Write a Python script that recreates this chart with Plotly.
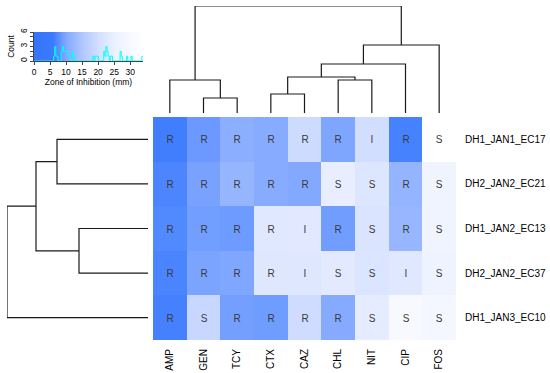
import numpy as np
import plotly.graph_objects as go

# ---------------- data ----------------
antibiotics = ["AMP", "GEN", "TCY", "CTX", "CAZ", "CHL", "NIT", "CIP", "FOS"]
isolates = ["DH1_JAN1_EC17", "DH2_JAN2_EC21", "DH1_JAN2_EC13", "DH2_JAN2_EC37", "DH1_JAN3_EC10"]

# zone of inhibition (mm), one list per isolate (row order as displayed)
zone_ec17 = [6.3, 8.7, 11.0, 10.5, 19.3, 9.8, 20.0, 6.6, 34.0]
zone_ec21 = [6.9, 9.5, 12.1, 10.6, 10.1, 24.3, 22.1, 12.0, 27.2]
zone_ec13 = [7.2, 9.1, 8.8, 22.7, 22.9, 9.0, 21.8, 12.3, 27.4]
zone_ec37 = [6.8, 9.6, 9.9, 22.5, 22.6, 23.4, 22.0, 22.8, 26.9]
zone_ec10 = [6.5, 18.6, 9.2, 8.9, 19.5, 10.4, 24.0, 30.4, 29.0]

call_ec17 = ["R", "R", "R", "R", "R", "R", "I", "R", "S"]
call_ec21 = ["R", "R", "R", "R", "R", "S", "S", "R", "S"]
call_ec13 = ["R", "R", "R", "R", "I", "R", "S", "R", "S"]
call_ec37 = ["R", "R", "R", "R", "I", "S", "S", "I", "S"]
call_ec10 = ["R", "S", "R", "R", "R", "R", "S", "S", "S"]

# dendrogram merges (R hclust style: negative = leaf index, positive = earlier merge), height
col_merge = [(-2, -3, 15), (-1, 1, 33), (-4, -5, 19), (-6, -7, 33),
             (3, 4, 36), (5, -8, 49), (6, -9, 68), (2, 7, 107)]
row_merge = [(-1, -2, 91), (-3, -4, 69), (1, 2, 112), (3, -5, 141)]

key_ticks = [0, 5, 10, 15, 20, 25, 30]
count_ticks = [0, 1, 2, 3, 4, 5, 6]
count_labels = ["0", "", "", "3", "", "", "6"]

zmax = 34
# ---------------------------------------

Z = np.array([zone_ec17, zone_ec21, zone_ec13, zone_ec37, zone_ec10], dtype=float)
T = [call_ec17, call_ec21, call_ec13, call_ec37, call_ec10]

colorscale = [[0.0, "rgb(52,116,254)"], [6 / zmax, "rgb(60,123,254)"],
              [10 / zmax, "rgb(130,168,255)"], [15 / zmax, "rgb(175,198,255)"],
              [20 / zmax, "rgb(210,222,255)"], [25 / zmax, "rgb(235,240,255)"],
              [1.0, "rgb(255,255,255)"]]


def dendro(merges, n):
    pos, hgt = {}, {}
    a_s, h_s = [], []

    def info(k):
        if k < 0:
            return float(-k - 1), 0.0
        return pos[k], hgt[k]

    for i, (a, b, h) in enumerate(merges, start=1):
        pa, ha = info(a)
        pb, hb = info(b)
        a_s += [pa, pa, pb, pb, None]
        h_s += [ha, h, h, hb, None]
        pos[i] = (pa + pb) / 2
        hgt[i] = h
    return a_s, h_s


W, H = 550, 373
hm_x = [153 / W, 456 / W]
hm_y = [1 - 340 / H, 1 - 117 / H]

fig = go.Figure()

fig.add_trace(go.Heatmap(
    z=Z, x=list(range(len(antibiotics))), y=list(range(len(isolates))),
    text=T, texttemplate="%{text}", textfont=dict(size=10, color="#3a3a3a"),
    colorscale=colorscale, zmin=0, zmax=zmax, showscale=False,
    hoverinfo="skip", xaxis="x", yaxis="y"))

cx, cy = dendro(col_merge, len(antibiotics))
fig.add_trace(go.Scatter(x=cx, y=cy, mode="lines", line=dict(color="#1a1a1a", width=1.2),
                         hoverinfo="skip", xaxis="x2", yaxis="y2", showlegend=False))

rx, ry = dendro(row_merge, len(isolates))
fig.add_trace(go.Scatter(x=ry, y=rx, mode="lines", line=dict(color="#1a1a1a", width=1.2),
                         hoverinfo="skip", xaxis="x3", yaxis="y3", showlegend=False))

# color key
edges = np.linspace(0, zmax, 201)
fig.add_trace(go.Heatmap(z=[(edges[:-1] + edges[1:]) / 2], x=edges, y=[0, 6],
                         colorscale=colorscale, zmin=0, zmax=zmax, showscale=False,
                         hoverinfo="skip", xaxis="x4", yaxis="y4"))
vals = Z.flatten()
counts, bedges = np.histogram(vals, bins=np.linspace(0, zmax, 101))
hx = np.repeat(bedges, 2)[1:-1]
hy = np.repeat(counts, 2)
fig.add_trace(go.Scatter(x=hx, y=hy, mode="lines", line=dict(color="#00ffff", width=1),
                         hoverinfo="skip", xaxis="x4", yaxis="y4", showlegend=False))

fig.update_layout(
    width=W, height=H, margin=dict(l=0, r=0, t=0, b=0),
    paper_bgcolor="white", plot_bgcolor="white",
    font=dict(family="Liberation Sans, Arial, sans-serif", color="#000000"),
    showlegend=False,
    xaxis=dict(domain=hm_x, range=[-0.5, 8.5], tickvals=list(range(9)), ticktext=antibiotics,
               tickangle=-90, ticks="", showgrid=False, zeroline=False, tickfont=dict(size=10),
               ticklabelstandoff=6, anchor="y", automargin=False),
    yaxis=dict(domain=hm_y, range=[4.5, -0.5], tickvals=list(range(5)), ticktext=isolates,
               side="right", ticks="", showgrid=False, zeroline=False, tickfont=dict(size=10),
               ticklabelstandoff=8, anchor="x", automargin=False),
    xaxis2=dict(domain=hm_x, range=[-0.5, 8.5], visible=False, anchor="y2"),
    yaxis2=dict(domain=[1 - 113 / H, 1 - 6 / H], range=[0, 107], visible=False, anchor="x2"),
    xaxis3=dict(domain=[7 / W, 148 / W], range=[141, 0], visible=False, anchor="y3"),
    yaxis3=dict(domain=hm_y, range=[4.5, -0.5], visible=False, anchor="x3"),
    xaxis4=dict(domain=[34 / W, 143 / W], range=[0, zmax], tickvals=key_ticks,
                ticks="outside", ticklen=3, tickcolor="#444", showline=True, linecolor="#444",
                showgrid=False, zeroline=False, tickfont=dict(size=8.5),
                title=dict(text="Zone of Inhibition (mm)", font=dict(size=8.5), standoff=2),
                anchor="y4", automargin=False),
    yaxis4=dict(domain=[1 - 61 / H, 1 - 32 / H], range=[0, 6], tickvals=count_ticks,
                ticktext=count_labels, tickangle=-90, ticks="outside", ticklen=3,
                tickcolor="#444", showline=True, linecolor="#444", showgrid=False,
                zeroline=False, tickfont=dict(size=8.5),
                title=dict(text="Count", font=dict(size=8.5), standoff=2), anchor="x4",
                automargin=False),
)

fig.write_html("out.html", config={"displayModeBar": False},
               post_script="document.body.style.margin='0px';document.body.style.overflow='hidden';")
